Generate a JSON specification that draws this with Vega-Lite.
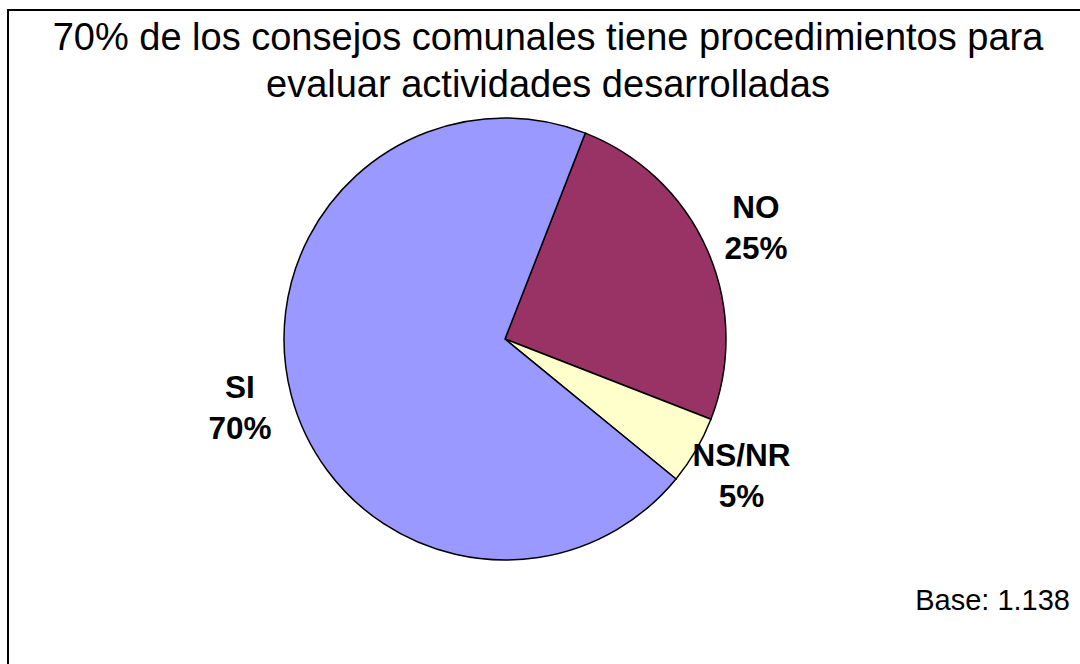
{
  "$schema": "https://vega.github.io/schema/vega-lite/v6.json",
  "width": 1080,
  "height": 664,
  "autosize": {"type": "none"},
  "padding": {"left": 8, "top": 10, "right": 0, "bottom": 0},
  "background": "white",
  "title": {
    "text": ["70% de los consejos comunales tiene procedimientos para", "evaluar actividades desarrolladas"],
    "font": "Liberation Sans",
    "fontSize": 38,
    "fontWeight": "normal",
    "color": "black",
    "lineHeight": 47,
    "anchor": "middle",
    "frame": "group",
    "offset": -95
  },
  "config": {"view": {"stroke": "black", "strokeWidth": 2}},
  "data": {
    "values": [
      {"cat": "NO", "pct": 25, "label": "NO\n25%"},
      {"cat": "NS/NR", "pct": 5, "label": "NS/NR\n5%"},
      {"cat": "SI", "pct": 70, "label": "SI\n70%"}
    ]
  },
  "layer": [
    {
      "mark": {"type": "arc", "radius": 221, "stroke": "black", "strokeWidth": 1.5},
      "encoding": {
        "theta": {"field": "pct", "type": "quantitative", "stack": true, "scale": {"range": [0.3718, 6.655]}},
        "color": {"field": "cat", "type": "nominal", "scale": {"domain": ["NO", "NS/NR", "SI"], "range": ["#993366", "#FFFFCC", "#9999FF"]}, "legend": null},
        "order": {"field": "cat", "sort": "ascending"},
        "x": {"value": 497},
        "y": {"value": 329}
      }
    },
    {
      "mark": {"type": "text", "radius": 274, "font": "Liberation Sans", "fontSize": 31.5, "fontWeight": "bold", "lineBreak": "\n", "lineHeight": 41, "align": "center", "baseline": "middle", "dy": -20, "color": "black"},
      "encoding": {
        "theta": {"field": "pct", "type": "quantitative", "stack": true},
        "detail": {"field": "cat", "type": "nominal"},
        "order": {"field": "cat", "sort": "ascending"},
        "text": {"field": "label", "type": "nominal"},
        "x": {"value": 497},
        "y": {"value": 329}
      }
    },
    {
      "data": {"values": [{"note": "Base: 1.138"}]},
      "mark": {"type": "text", "font": "Liberation Sans", "fontSize": 29, "align": "right", "baseline": "alphabetic", "color": "black"},
      "encoding": {
        "text": {"field": "note", "type": "nominal"},
        "x": {"value": 1062},
        "y": {"value": 600}
      }
    }
  ]
}
